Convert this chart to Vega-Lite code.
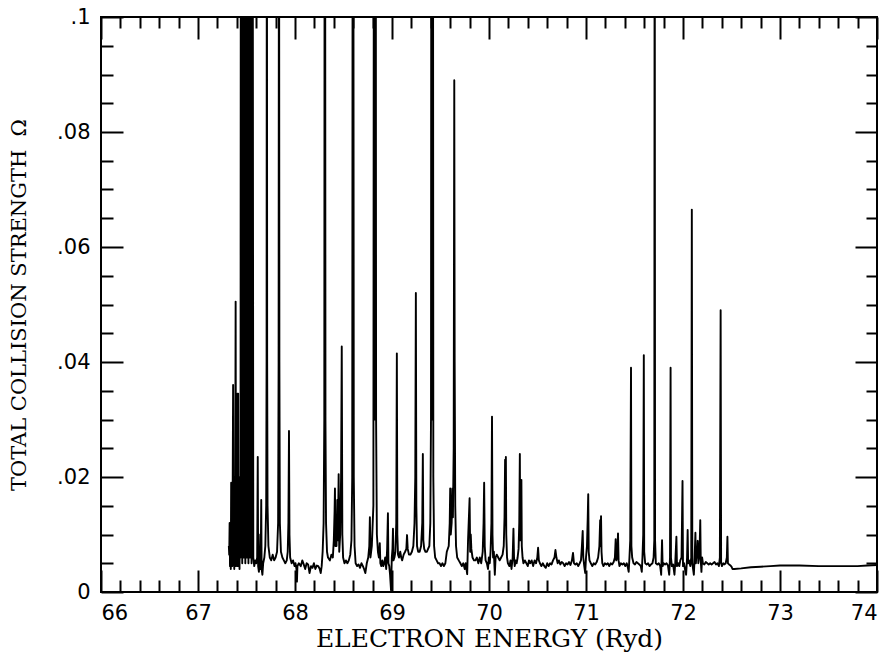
{
  "$schema": "https://vega.github.io/schema/vega-lite/v6.json",
  "width": 776,
  "height": 575,
  "autosize": {"type": "none"},
  "padding": {"left": 101, "top": 17, "right": 19, "bottom": 65},
  "background": "white",
  "config": {
    "view": {"stroke": "black", "strokeWidth": 2},
    "axis": {
      "domain": false,
      "grid": false,
      "tickColor": "black",
      "labelColor": "black",
      "titleColor": "black",
      "labelFont": "DejaVu Sans",
      "labelFontSize": 21,
      "titleFont": "DejaVu Serif",
      "titleFontWeight": "normal"
    }
  },
  "data": {
    "values": [
      {"energy": 67.318, "omega": 0.0080}, {"energy": 67.322, "omega": 0.0065}, {"energy": 67.326, "omega": 0.0120}, {"energy": 67.330, "omega": 0.0045},
      {"energy": 67.334, "omega": 0.0090}, {"energy": 67.338, "omega": 0.0040}, {"energy": 67.342, "omega": 0.0190}, {"energy": 67.346, "omega": 0.0050},
      {"energy": 67.350, "omega": 0.0130}, {"energy": 67.354, "omega": 0.0045}, {"energy": 67.358, "omega": 0.0200}, {"energy": 67.362, "omega": 0.0360},
      {"energy": 67.366, "omega": 0.0050}, {"energy": 67.370, "omega": 0.0150}, {"energy": 67.374, "omega": 0.0040}, {"energy": 67.378, "omega": 0.0200},
      {"energy": 67.382, "omega": 0.0055}, {"energy": 67.388, "omega": 0.0505}, {"energy": 67.392, "omega": 0.0045}, {"energy": 67.396, "omega": 0.0150},
      {"energy": 67.400, "omega": 0.0060}, {"energy": 67.406, "omega": 0.0345}, {"energy": 67.410, "omega": 0.0045}, {"energy": 67.414, "omega": 0.0345},
      {"energy": 67.418, "omega": 0.0060}, {"energy": 67.424, "omega": 0.0120}, {"energy": 67.428, "omega": 0.0040}, {"energy": 67.434, "omega": 0.0200},
      {"energy": 67.438, "omega": 0.0060},
      {"energy": 67.442, "omega": 0.15}, {"energy": 67.444, "omega": 0.020}, {"energy": 67.446, "omega": 0.15}, {"energy": 67.448, "omega": 0.008},
      {"energy": 67.450, "omega": 0.15}, {"energy": 67.452, "omega": 0.030}, {"energy": 67.454, "omega": 0.15}, {"energy": 67.456, "omega": 0.005},
      {"energy": 67.458, "omega": 0.15}, {"energy": 67.460, "omega": 0.025}, {"energy": 67.462, "omega": 0.15}, {"energy": 67.464, "omega": 0.010},
      {"energy": 67.466, "omega": 0.15}, {"energy": 67.468, "omega": 0.040}, {"energy": 67.470, "omega": 0.15}, {"energy": 67.472, "omega": 0.006},
      {"energy": 67.474, "omega": 0.15}, {"energy": 67.476, "omega": 0.030}, {"energy": 67.478, "omega": 0.15}, {"energy": 67.480, "omega": 0.012},
      {"energy": 67.482, "omega": 0.15}, {"energy": 67.484, "omega": 0.050}, {"energy": 67.486, "omega": 0.15}, {"energy": 67.488, "omega": 0.005},
      {"energy": 67.490, "omega": 0.15}, {"energy": 67.492, "omega": 0.035}, {"energy": 67.494, "omega": 0.15}, {"energy": 67.496, "omega": 0.020},
      {"energy": 67.498, "omega": 0.15}, {"energy": 67.500, "omega": 0.045}, {"energy": 67.502, "omega": 0.15}, {"energy": 67.504, "omega": 0.006},
      {"energy": 67.506, "omega": 0.15}, {"energy": 67.508, "omega": 0.030}, {"energy": 67.510, "omega": 0.15}, {"energy": 67.512, "omega": 0.010},
      {"energy": 67.514, "omega": 0.15}, {"energy": 67.516, "omega": 0.040}, {"energy": 67.518, "omega": 0.15}, {"energy": 67.520, "omega": 0.005},
      {"energy": 67.522, "omega": 0.15}, {"energy": 67.524, "omega": 0.030}, {"energy": 67.526, "omega": 0.15}, {"energy": 67.528, "omega": 0.015},
      {"energy": 67.530, "omega": 0.15}, {"energy": 67.532, "omega": 0.045}, {"energy": 67.534, "omega": 0.15}, {"energy": 67.536, "omega": 0.006},
      {"energy": 67.538, "omega": 0.15}, {"energy": 67.540, "omega": 0.030}, {"energy": 67.542, "omega": 0.15}, {"energy": 67.544, "omega": 0.008},
      {"energy": 67.546, "omega": 0.15}, {"energy": 67.548, "omega": 0.040}, {"energy": 67.550, "omega": 0.15}, {"energy": 67.552, "omega": 0.005},
      {"energy": 67.554, "omega": 0.15}, {"energy": 67.556, "omega": 0.030}, {"energy": 67.558, "omega": 0.15}, {"energy": 67.560, "omega": 0.012},
      {"energy": 67.563, "omega": 0.15}, {"energy": 67.570, "omega": 0.006},
      {"energy": 67.580, "omega": 0.0045}, {"energy": 67.590, "omega": 0.0055}, {"energy": 67.600, "omega": 0.0050}, {"energy": 67.610, "omega": 0.0060},
      {"energy": 67.616, "omega": 0.0235}, {"energy": 67.620, "omega": 0.0045}, {"energy": 67.628, "omega": 0.0035}, {"energy": 67.636, "omega": 0.0060},
      {"energy": 67.642, "omega": 0.0100}, {"energy": 67.646, "omega": 0.0040}, {"energy": 67.652, "omega": 0.0160}, {"energy": 67.656, "omega": 0.0040},
      {"energy": 67.664, "omega": 0.0030}, {"energy": 67.672, "omega": 0.0050}, {"energy": 67.684, "omega": 0.0060}, {"energy": 67.694, "omega": 0.0080},
      {"energy": 67.703, "omega": 0.0150}, {"energy": 67.707, "omega": 0.0400}, {"energy": 67.710, "omega": 0.15}, {"energy": 67.713, "omega": 0.0400},
      {"energy": 67.717, "omega": 0.0150}, {"energy": 67.726, "omega": 0.0080}, {"energy": 67.740, "omega": 0.0060}, {"energy": 67.755, "omega": 0.0055},
      {"energy": 67.770, "omega": 0.0065}, {"energy": 67.785, "omega": 0.0055}, {"energy": 67.800, "omega": 0.0060}, {"energy": 67.815, "omega": 0.0070},
      {"energy": 67.826, "omega": 0.0120}, {"energy": 67.831, "omega": 0.0400}, {"energy": 67.835, "omega": 0.15}, {"energy": 67.839, "omega": 0.0400},
      {"energy": 67.844, "omega": 0.0120}, {"energy": 67.855, "omega": 0.0070}, {"energy": 67.870, "omega": 0.0060}, {"energy": 67.885, "omega": 0.0055},
      {"energy": 67.900, "omega": 0.0050}, {"energy": 67.915, "omega": 0.0055}, {"energy": 67.925, "omega": 0.0070}, {"energy": 67.932, "omega": 0.0120},
      {"energy": 67.938, "omega": 0.0280}, {"energy": 67.943, "omega": 0.0100}, {"energy": 67.950, "omega": 0.0060}, {"energy": 67.965, "omega": 0.0050},
      {"energy": 67.980, "omega": 0.0055}, {"energy": 67.995, "omega": 0.0045}, {"energy": 68.005, "omega": 0.0050}, {"energy": 68.015, "omega": 0.0040},
      {"energy": 68.020, "omega": 0.0018}, {"energy": 68.025, "omega": 0.0045}, {"energy": 68.040, "omega": 0.0050}, {"energy": 68.060, "omega": 0.0045},
      {"energy": 68.075, "omega": 0.0055}, {"energy": 68.090, "omega": 0.0048}, {"energy": 68.105, "omega": 0.0040}, {"energy": 68.120, "omega": 0.0050},
      {"energy": 68.135, "omega": 0.0048}, {"energy": 68.150, "omega": 0.0033}, {"energy": 68.165, "omega": 0.0045}, {"energy": 68.180, "omega": 0.0042},
      {"energy": 68.195, "omega": 0.0050}, {"energy": 68.210, "omega": 0.0040}, {"energy": 68.225, "omega": 0.0046}, {"energy": 68.240, "omega": 0.0045},
      {"energy": 68.255, "omega": 0.0040}, {"energy": 68.265, "omega": 0.0033}, {"energy": 68.275, "omega": 0.0045}, {"energy": 68.285, "omega": 0.0070},
      {"energy": 68.295, "omega": 0.0120}, {"energy": 68.302, "omega": 0.0300}, {"energy": 68.306, "omega": 0.15}, {"energy": 68.310, "omega": 0.15},
      {"energy": 68.314, "omega": 0.0300}, {"energy": 68.320, "omega": 0.0120}, {"energy": 68.330, "omega": 0.0070}, {"energy": 68.340, "omega": 0.0060},
      {"energy": 68.360, "omega": 0.0055}, {"energy": 68.375, "omega": 0.0065}, {"energy": 68.390, "omega": 0.0060}, {"energy": 68.400, "omega": 0.0090},
      {"energy": 68.408, "omega": 0.0140}, {"energy": 68.412, "omega": 0.0180}, {"energy": 68.416, "omega": 0.0080}, {"energy": 68.422, "omega": 0.0120},
      {"energy": 68.428, "omega": 0.0080}, {"energy": 68.436, "omega": 0.0160}, {"energy": 68.442, "omega": 0.0090}, {"energy": 68.450, "omega": 0.0205},
      {"energy": 68.456, "omega": 0.0070}, {"energy": 68.466, "omega": 0.0100}, {"energy": 68.475, "omega": 0.0200}, {"energy": 68.482, "omega": 0.0427},
      {"energy": 68.488, "omega": 0.0100}, {"energy": 68.496, "omega": 0.0060}, {"energy": 68.510, "omega": 0.0050}, {"energy": 68.525, "omega": 0.0055},
      {"energy": 68.540, "omega": 0.0050}, {"energy": 68.555, "omega": 0.0055}, {"energy": 68.570, "omega": 0.0065}, {"energy": 68.582, "omega": 0.0090},
      {"energy": 68.590, "omega": 0.0200}, {"energy": 68.595, "omega": 0.15}, {"energy": 68.601, "omega": 0.15}, {"energy": 68.606, "omega": 0.0200},
      {"energy": 68.614, "omega": 0.0080}, {"energy": 68.625, "omega": 0.0050}, {"energy": 68.640, "omega": 0.0045}, {"energy": 68.655, "omega": 0.0048},
      {"energy": 68.670, "omega": 0.0042}, {"energy": 68.685, "omega": 0.0050}, {"energy": 68.700, "omega": 0.0045}, {"energy": 68.712, "omega": 0.0040},
      {"energy": 68.725, "omega": 0.0033}, {"energy": 68.740, "omega": 0.0050}, {"energy": 68.755, "omega": 0.0060}, {"energy": 68.766, "omega": 0.0080},
      {"energy": 68.772, "omega": 0.0130}, {"energy": 68.778, "omega": 0.0060}, {"energy": 68.792, "omega": 0.0080}, {"energy": 68.808, "omega": 0.0150},
      {"energy": 68.814, "omega": 0.15}, {"energy": 68.818, "omega": 0.0400}, {"energy": 68.822, "omega": 0.0300}, {"energy": 68.826, "omega": 0.15},
      {"energy": 68.832, "omega": 0.15}, {"energy": 68.836, "omega": 0.0300}, {"energy": 68.844, "omega": 0.0100}, {"energy": 68.855, "omega": 0.0070},
      {"energy": 68.865, "omega": 0.0060}, {"energy": 68.874, "omega": 0.0085}, {"energy": 68.880, "omega": 0.0050}, {"energy": 68.890, "omega": 0.0045},
      {"energy": 68.900, "omega": 0.0055}, {"energy": 68.910, "omega": 0.0045}, {"energy": 68.920, "omega": 0.0050}, {"energy": 68.930, "omega": 0.0060},
      {"energy": 68.940, "omega": 0.0040}, {"energy": 68.950, "omega": 0.0075}, {"energy": 68.958, "omega": 0.0137}, {"energy": 68.963, "omega": 0.0050},
      {"energy": 68.972, "omega": 0.0045}, {"energy": 68.980, "omega": 0.0030}, {"energy": 68.990, "omega": 0.0003}, {"energy": 68.998, "omega": 0.0060},
      {"energy": 69.005, "omega": 0.0075}, {"energy": 69.010, "omega": 0.0110}, {"energy": 69.015, "omega": 0.0055}, {"energy": 69.025, "omega": 0.0060},
      {"energy": 69.035, "omega": 0.0070}, {"energy": 69.044, "omega": 0.0120}, {"energy": 69.050, "omega": 0.0415}, {"energy": 69.055, "omega": 0.0100},
      {"energy": 69.062, "omega": 0.0065}, {"energy": 69.072, "omega": 0.0060}, {"energy": 69.085, "omega": 0.0070}, {"energy": 69.095, "omega": 0.0060},
      {"energy": 69.105, "omega": 0.0055}, {"energy": 69.120, "omega": 0.0065}, {"energy": 69.135, "omega": 0.0070}, {"energy": 69.148, "omega": 0.0075},
      {"energy": 69.155, "omega": 0.0099}, {"energy": 69.162, "omega": 0.0075}, {"energy": 69.175, "omega": 0.0065}, {"energy": 69.190, "omega": 0.0065},
      {"energy": 69.205, "omega": 0.0070}, {"energy": 69.220, "omega": 0.0080}, {"energy": 69.232, "omega": 0.0120}, {"energy": 69.240, "omega": 0.0200},
      {"energy": 69.246, "omega": 0.0520}, {"energy": 69.251, "omega": 0.0150}, {"energy": 69.258, "omega": 0.0080}, {"energy": 69.270, "omega": 0.0070},
      {"energy": 69.285, "omega": 0.0070}, {"energy": 69.300, "omega": 0.0080}, {"energy": 69.312, "omega": 0.0120}, {"energy": 69.318, "omega": 0.0240},
      {"energy": 69.323, "omega": 0.0090}, {"energy": 69.332, "omega": 0.0075}, {"energy": 69.345, "omega": 0.0070}, {"energy": 69.360, "omega": 0.0070},
      {"energy": 69.372, "omega": 0.0075}, {"energy": 69.385, "omega": 0.0080}, {"energy": 69.395, "omega": 0.0120}, {"energy": 69.402, "omega": 0.0300},
      {"energy": 69.406, "omega": 0.15}, {"energy": 69.410, "omega": 0.15}, {"energy": 69.414, "omega": 0.0300}, {"energy": 69.418, "omega": 0.15},
      {"energy": 69.422, "omega": 0.15}, {"energy": 69.426, "omega": 0.0200}, {"energy": 69.434, "omega": 0.0080}, {"energy": 69.445, "omega": 0.0060},
      {"energy": 69.460, "omega": 0.0055}, {"energy": 69.475, "omega": 0.0050}, {"energy": 69.490, "omega": 0.0050}, {"energy": 69.505, "omega": 0.0045},
      {"energy": 69.520, "omega": 0.0050}, {"energy": 69.535, "omega": 0.0045}, {"energy": 69.550, "omega": 0.0050}, {"energy": 69.565, "omega": 0.0070},
      {"energy": 69.585, "omega": 0.0080}, {"energy": 69.595, "omega": 0.0120}, {"energy": 69.600, "omega": 0.0180}, {"energy": 69.606, "omega": 0.0100},
      {"energy": 69.615, "omega": 0.0120}, {"energy": 69.622, "omega": 0.0180}, {"energy": 69.628, "omega": 0.0130}, {"energy": 69.636, "omega": 0.0250},
      {"energy": 69.642, "omega": 0.0890}, {"energy": 69.646, "omega": 0.0400}, {"energy": 69.652, "omega": 0.0150}, {"energy": 69.660, "omega": 0.0080},
      {"energy": 69.672, "omega": 0.0060}, {"energy": 69.688, "omega": 0.0055}, {"energy": 69.705, "omega": 0.0050}, {"energy": 69.720, "omega": 0.0045},
      {"energy": 69.735, "omega": 0.0050}, {"energy": 69.750, "omega": 0.0040}, {"energy": 69.760, "omega": 0.0050}, {"energy": 69.775, "omega": 0.0031},
      {"energy": 69.784, "omega": 0.0090}, {"energy": 69.800, "omega": 0.0163}, {"energy": 69.806, "omega": 0.0070}, {"energy": 69.812, "omega": 0.0100},
      {"energy": 69.818, "omega": 0.0075}, {"energy": 69.830, "omega": 0.0060}, {"energy": 69.845, "omega": 0.0055}, {"energy": 69.860, "omega": 0.0055},
      {"energy": 69.875, "omega": 0.0060}, {"energy": 69.890, "omega": 0.0050}, {"energy": 69.905, "omega": 0.0060}, {"energy": 69.920, "omega": 0.0050},
      {"energy": 69.935, "omega": 0.0070}, {"energy": 69.944, "omega": 0.0120}, {"energy": 69.950, "omega": 0.0190}, {"energy": 69.956, "omega": 0.0080},
      {"energy": 69.965, "omega": 0.0055}, {"energy": 69.978, "omega": 0.0050}, {"energy": 69.990, "omega": 0.0040}, {"energy": 69.998, "omega": 0.0060},
      {"energy": 70.008, "omega": 0.0050}, {"energy": 70.016, "omega": 0.0070}, {"energy": 70.025, "omega": 0.0120}, {"energy": 70.031, "omega": 0.0305},
      {"energy": 70.036, "omega": 0.0100}, {"energy": 70.042, "omega": 0.0060}, {"energy": 70.050, "omega": 0.0070}, {"energy": 70.060, "omega": 0.0030},
      {"energy": 70.068, "omega": 0.0060}, {"energy": 70.080, "omega": 0.0065}, {"energy": 70.095, "omega": 0.0060}, {"energy": 70.110, "omega": 0.0055},
      {"energy": 70.125, "omega": 0.0060}, {"energy": 70.140, "omega": 0.0065}, {"energy": 70.152, "omega": 0.0080}, {"energy": 70.160, "omega": 0.0130},
      {"energy": 70.166, "omega": 0.0230}, {"energy": 70.170, "omega": 0.0120}, {"energy": 70.174, "omega": 0.0235}, {"energy": 70.178, "omega": 0.0100},
      {"energy": 70.186, "omega": 0.0060}, {"energy": 70.195, "omega": 0.0050}, {"energy": 70.210, "omega": 0.0045}, {"energy": 70.222, "omega": 0.0055},
      {"energy": 70.232, "omega": 0.0040}, {"energy": 70.244, "omega": 0.0060}, {"energy": 70.252, "omega": 0.0110}, {"energy": 70.258, "omega": 0.0060},
      {"energy": 70.265, "omega": 0.0045}, {"energy": 70.275, "omega": 0.0055}, {"energy": 70.285, "omega": 0.0050}, {"energy": 70.295, "omega": 0.0060},
      {"energy": 70.305, "omega": 0.0075}, {"energy": 70.312, "omega": 0.0120}, {"energy": 70.318, "omega": 0.0240}, {"energy": 70.322, "omega": 0.0090},
      {"energy": 70.328, "omega": 0.0150}, {"energy": 70.334, "omega": 0.0195}, {"energy": 70.338, "omega": 0.0080}, {"energy": 70.346, "omega": 0.0060},
      {"energy": 70.355, "omega": 0.0050}, {"energy": 70.370, "omega": 0.0055}, {"energy": 70.385, "omega": 0.0050}, {"energy": 70.400, "omega": 0.0045},
      {"energy": 70.412, "omega": 0.0055}, {"energy": 70.425, "omega": 0.0050}, {"energy": 70.440, "omega": 0.0055}, {"energy": 70.455, "omega": 0.0045},
      {"energy": 70.470, "omega": 0.0055}, {"energy": 70.485, "omega": 0.0050}, {"energy": 70.498, "omega": 0.0060}, {"energy": 70.506, "omega": 0.0077},
      {"energy": 70.514, "omega": 0.0055}, {"energy": 70.525, "omega": 0.0050}, {"energy": 70.540, "omega": 0.0045}, {"energy": 70.555, "omega": 0.0050},
      {"energy": 70.570, "omega": 0.0045}, {"energy": 70.585, "omega": 0.0042}, {"energy": 70.600, "omega": 0.0050}, {"energy": 70.615, "omega": 0.0045},
      {"energy": 70.630, "omega": 0.0050}, {"energy": 70.645, "omega": 0.0048}, {"energy": 70.660, "omega": 0.0055}, {"energy": 70.675, "omega": 0.0060},
      {"energy": 70.685, "omega": 0.0073}, {"energy": 70.695, "omega": 0.0060}, {"energy": 70.708, "omega": 0.0050}, {"energy": 70.720, "omega": 0.0055},
      {"energy": 70.735, "omega": 0.0048}, {"energy": 70.750, "omega": 0.0052}, {"energy": 70.765, "omega": 0.0050}, {"energy": 70.780, "omega": 0.0045},
      {"energy": 70.795, "omega": 0.0050}, {"energy": 70.810, "omega": 0.0048}, {"energy": 70.825, "omega": 0.0052}, {"energy": 70.840, "omega": 0.0047},
      {"energy": 70.855, "omega": 0.0055}, {"energy": 70.866, "omega": 0.0068}, {"energy": 70.876, "omega": 0.0050}, {"energy": 70.890, "omega": 0.0048},
      {"energy": 70.905, "omega": 0.0050}, {"energy": 70.920, "omega": 0.0045}, {"energy": 70.935, "omega": 0.0050}, {"energy": 70.948, "omega": 0.0055},
      {"energy": 70.958, "omega": 0.0080}, {"energy": 70.966, "omega": 0.0106}, {"energy": 70.972, "omega": 0.0060}, {"energy": 70.982, "omega": 0.0045},
      {"energy": 70.992, "omega": 0.0033}, {"energy": 71.000, "omega": 0.0060}, {"energy": 71.010, "omega": 0.0080}, {"energy": 71.018, "omega": 0.0130},
      {"energy": 71.023, "omega": 0.0170}, {"energy": 71.028, "omega": 0.0070}, {"energy": 71.036, "omega": 0.0055}, {"energy": 71.050, "omega": 0.0050},
      {"energy": 71.065, "omega": 0.0045}, {"energy": 71.080, "omega": 0.0050}, {"energy": 71.095, "omega": 0.0048}, {"energy": 71.110, "omega": 0.0052},
      {"energy": 71.125, "omega": 0.0060}, {"energy": 71.138, "omega": 0.0080}, {"energy": 71.146, "omega": 0.0125}, {"energy": 71.150, "omega": 0.0080},
      {"energy": 71.155, "omega": 0.0132}, {"energy": 71.160, "omega": 0.0070}, {"energy": 71.168, "omega": 0.0050}, {"energy": 71.180, "omega": 0.0045},
      {"energy": 71.195, "omega": 0.0050}, {"energy": 71.210, "omega": 0.0048}, {"energy": 71.225, "omega": 0.0050}, {"energy": 71.240, "omega": 0.0045},
      {"energy": 71.255, "omega": 0.0050}, {"energy": 71.270, "omega": 0.0048}, {"energy": 71.285, "omega": 0.0052}, {"energy": 71.298, "omega": 0.0060},
      {"energy": 71.306, "omega": 0.0092}, {"energy": 71.312, "omega": 0.0055}, {"energy": 71.322, "omega": 0.0060}, {"energy": 71.330, "omega": 0.0102},
      {"energy": 71.336, "omega": 0.0055}, {"energy": 71.345, "omega": 0.0045}, {"energy": 71.360, "omega": 0.0050}, {"energy": 71.375, "omega": 0.0048},
      {"energy": 71.390, "omega": 0.0050}, {"energy": 71.405, "omega": 0.0045}, {"energy": 71.420, "omega": 0.0050}, {"energy": 71.432, "omega": 0.0042},
      {"energy": 71.440, "omega": 0.0035}, {"energy": 71.448, "omega": 0.0060}, {"energy": 71.456, "omega": 0.0090}, {"energy": 71.464, "omega": 0.0390},
      {"energy": 71.468, "omega": 0.0080}, {"energy": 71.476, "omega": 0.0060}, {"energy": 71.490, "omega": 0.0050}, {"energy": 71.505, "omega": 0.0048},
      {"energy": 71.520, "omega": 0.0052}, {"energy": 71.535, "omega": 0.0050}, {"energy": 71.550, "omega": 0.0048}, {"energy": 71.565, "omega": 0.0045},
      {"energy": 71.575, "omega": 0.0035}, {"energy": 71.582, "omega": 0.0060}, {"energy": 71.590, "omega": 0.0100}, {"energy": 71.596, "omega": 0.0412},
      {"energy": 71.600, "omega": 0.0070}, {"energy": 71.610, "omega": 0.0050}, {"energy": 71.625, "omega": 0.0048}, {"energy": 71.640, "omega": 0.0050},
      {"energy": 71.655, "omega": 0.0045}, {"energy": 71.670, "omega": 0.0048}, {"energy": 71.685, "omega": 0.0050}, {"energy": 71.697, "omega": 0.0060},
      {"energy": 71.704, "omega": 0.0090}, {"energy": 71.708, "omega": 0.15}, {"energy": 71.712, "omega": 0.0090}, {"energy": 71.720, "omega": 0.0050},
      {"energy": 71.735, "omega": 0.0048}, {"energy": 71.750, "omega": 0.0050}, {"energy": 71.765, "omega": 0.0045}, {"energy": 71.775, "omega": 0.0030},
      {"energy": 71.784, "omega": 0.0090}, {"energy": 71.790, "omega": 0.0045}, {"energy": 71.800, "omega": 0.0050}, {"energy": 71.815, "omega": 0.0048},
      {"energy": 71.830, "omega": 0.0050}, {"energy": 71.845, "omega": 0.0046}, {"energy": 71.858, "omega": 0.0030}, {"energy": 71.866, "omega": 0.0060},
      {"energy": 71.872, "omega": 0.0390}, {"energy": 71.876, "omega": 0.0060}, {"energy": 71.885, "omega": 0.0045}, {"energy": 71.898, "omega": 0.0048},
      {"energy": 71.912, "omega": 0.0030}, {"energy": 71.920, "omega": 0.0050}, {"energy": 71.932, "omega": 0.0096}, {"energy": 71.938, "omega": 0.0045},
      {"energy": 71.950, "omega": 0.0050}, {"energy": 71.962, "omega": 0.0045}, {"energy": 71.972, "omega": 0.0055}, {"energy": 71.985, "omega": 0.0060},
      {"energy": 71.995, "omega": 0.0193}, {"energy": 72.000, "omega": 0.0045}, {"energy": 72.010, "omega": 0.0050}, {"energy": 72.020, "omega": 0.0040},
      {"energy": 72.032, "omega": 0.0030}, {"energy": 72.042, "omega": 0.0060}, {"energy": 72.048, "omega": 0.0108}, {"energy": 72.053, "omega": 0.0050},
      {"energy": 72.062, "omega": 0.0055}, {"energy": 72.075, "omega": 0.0045}, {"energy": 72.085, "omega": 0.0060}, {"energy": 72.091, "omega": 0.0665},
      {"energy": 72.096, "omega": 0.0050}, {"energy": 72.104, "omega": 0.0040}, {"energy": 72.112, "omega": 0.0030}, {"energy": 72.120, "omega": 0.0060},
      {"energy": 72.128, "omega": 0.0103}, {"energy": 72.133, "omega": 0.0050}, {"energy": 72.140, "omega": 0.0070}, {"energy": 72.146, "omega": 0.0060},
      {"energy": 72.152, "omega": 0.0089}, {"energy": 72.158, "omega": 0.0050}, {"energy": 72.165, "omega": 0.0060}, {"energy": 72.172, "omega": 0.0080},
      {"energy": 72.178, "omega": 0.0125}, {"energy": 72.183, "omega": 0.0055}, {"energy": 72.190, "omega": 0.0035}, {"energy": 72.197, "omega": 0.0060},
      {"energy": 72.205, "omega": 0.0050}, {"energy": 72.220, "omega": 0.0048}, {"energy": 72.235, "omega": 0.0052}, {"energy": 72.250, "omega": 0.0050},
      {"energy": 72.265, "omega": 0.0048}, {"energy": 72.280, "omega": 0.0050}, {"energy": 72.295, "omega": 0.0048}, {"energy": 72.310, "omega": 0.0050},
      {"energy": 72.325, "omega": 0.0052}, {"energy": 72.340, "omega": 0.0048}, {"energy": 72.355, "omega": 0.0050}, {"energy": 72.370, "omega": 0.0045},
      {"energy": 72.380, "omega": 0.0060}, {"energy": 72.388, "omega": 0.0490}, {"energy": 72.393, "omega": 0.0050}, {"energy": 72.402, "omega": 0.0045},
      {"energy": 72.415, "omega": 0.0050}, {"energy": 72.428, "omega": 0.0048}, {"energy": 72.440, "omega": 0.0050}, {"energy": 72.452, "omega": 0.0060},
      {"energy": 72.458, "omega": 0.0096}, {"energy": 72.463, "omega": 0.0050}, {"energy": 72.475, "omega": 0.0048}, {"energy": 72.490, "omega": 0.0046},
      {"energy": 72.500, "omega": 0.0044}, {"energy": 72.510, "omega": 0.0040}, {"energy": 72.530, "omega": 0.0040}, {"energy": 72.600, "omega": 0.0041},
      {"energy": 72.700, "omega": 0.0043}, {"energy": 72.800, "omega": 0.0044}, {"energy": 72.900, "omega": 0.0045}, {"energy": 73.000, "omega": 0.0046},
      {"energy": 73.200, "omega": 0.0046}, {"energy": 73.400, "omega": 0.0045}, {"energy": 73.600, "omega": 0.0045}, {"energy": 73.800, "omega": 0.0045},
      {"energy": 73.900, "omega": 0.0046}, {"energy": 74.000, "omega": 0.0047}
    ]
  },
  "layer": [
    {
      "mark": {"type": "line", "color": "black", "strokeWidth": 1.9, "strokeJoin": "round", "clip": true},
      "encoding": {
        "x": {
          "field": "energy", "type": "quantitative",
          "scale": {"domain": [66, 74], "nice": false, "zero": false},
          "axis": {
            "orient": "bottom", "values": [66, 67, 68, 69, 70, 71, 72, 73, 74],
            "format": "d", "tickSize": -22, "tickWidth": 2, "labelPadding": 32,
            "title": "ELECTRON ENERGY (Ryd)", "titleFontSize": 25, "titlePadding": 3
          }
        },
        "y": {
          "field": "omega", "type": "quantitative",
          "scale": {"domain": [0, 0.1], "nice": false},
          "axis": {
            "orient": "left", "values": [0, 0.02, 0.04, 0.06, 0.08, 0.1],
            "labelExpr": "datum.value == 0 ? '0' : substring(format(datum.value, '.2~f'), 1)",
            "tickSize": -22, "tickWidth": 2, "labelPadding": 33,
            "title": "TOTAL COLLISION STRENGTH\u00a0\u00a0Ω", "titleFontSize": 21, "titlePadding": 27
          }
        }
      }
    },
    {
      "mark": {"type": "point", "opacity": 0, "size": 1},
      "encoding": {
        "x": {
          "field": "energy", "type": "quantitative",
          "scale": {"domain": [66, 74], "nice": false, "zero": false},
          "axis": {
            "orient": "bottom",
            "values": [66.2, 66.4, 66.6, 66.8, 67.2, 67.4, 67.6, 67.8, 68.2, 68.4, 68.6, 68.8, 69.2, 69.4, 69.6, 69.8, 70.2, 70.4, 70.6, 70.8, 71.2, 71.4, 71.6, 71.8, 72.2, 72.4, 72.6, 72.8, 73.2, 73.4, 73.6, 73.8],
            "tickSize": -12, "tickWidth": 2, "labels": false, "title": null
          }
        },
        "y": {
          "field": "omega", "type": "quantitative",
          "scale": {"domain": [0, 0.1], "nice": false},
          "axis": {
            "orient": "left",
            "values": [0.005, 0.01, 0.015, 0.025, 0.03, 0.035, 0.045, 0.05, 0.055, 0.065, 0.07, 0.075, 0.085, 0.09, 0.095],
            "tickSize": -12, "tickWidth": 2, "labels": false, "title": null
          }
        }
      }
    },
    {
      "mark": {"type": "point", "opacity": 0, "size": 1},
      "encoding": {
        "x": {
          "field": "energy", "type": "quantitative",
          "scale": {"domain": [66, 74], "nice": false, "zero": false},
          "axis": {
            "orient": "top", "values": [66, 67, 68, 69, 70, 71, 72, 73, 74],
            "tickSize": -22, "tickWidth": 2, "labels": false, "title": null
          }
        },
        "y": {
          "field": "omega", "type": "quantitative",
          "scale": {"domain": [0, 0.1], "nice": false},
          "axis": {
            "orient": "right", "values": [0, 0.02, 0.04, 0.06, 0.08, 0.1],
            "tickSize": -22, "tickWidth": 2, "labels": false, "title": null
          }
        }
      }
    },
    {
      "mark": {"type": "point", "opacity": 0, "size": 1},
      "encoding": {
        "x": {
          "field": "energy", "type": "quantitative",
          "scale": {"domain": [66, 74], "nice": false, "zero": false},
          "axis": {
            "orient": "top",
            "values": [66.2, 66.4, 66.6, 66.8, 67.2, 67.4, 67.6, 67.8, 68.2, 68.4, 68.6, 68.8, 69.2, 69.4, 69.6, 69.8, 70.2, 70.4, 70.6, 70.8, 71.2, 71.4, 71.6, 71.8, 72.2, 72.4, 72.6, 72.8, 73.2, 73.4, 73.6, 73.8],
            "tickSize": -11, "tickWidth": 2, "labels": false, "title": null
          }
        },
        "y": {
          "field": "omega", "type": "quantitative",
          "scale": {"domain": [0, 0.1], "nice": false},
          "axis": {
            "orient": "right",
            "values": [0.005, 0.01, 0.015, 0.025, 0.03, 0.035, 0.045, 0.05, 0.055, 0.065, 0.07, 0.075, 0.085, 0.09, 0.095],
            "tickSize": -11, "tickWidth": 2, "labels": false, "title": null
          }
        }
      }
    }
  ],
  "resolve": {"axis": {"x": "independent", "y": "independent"}}
}
